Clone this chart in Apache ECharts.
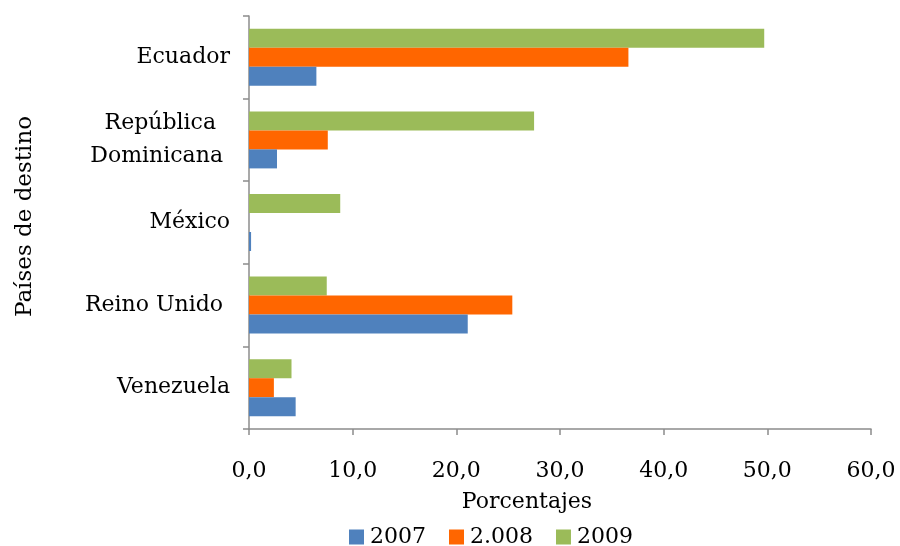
<!DOCTYPE html>
<html>
<head>
<meta charset="utf-8">
<script src="https://cdn.jsdelivr.net/npm/echarts@6/dist/echarts.min.js"></script>
<style>
  html, body { margin: 0; padding: 0; background: #fff; }
  #chart { width: 900px; height: 546px; }
</style>
</head>
<body>
<div id="chart"></div>
<script>
// Destination countries, bottom to top
const paises = ['Venezuela', 'Reino Unido ', 'México', 'República  \nDominicana ', 'Ecuador'];

// Percentages per year (same order as paises)
const valores2007 = [4.5, 21.1, 0.2, 2.7, 6.5];
const valores2008 = [2.4, 25.4, 0, 7.6, 36.6];
const valores2009 = [4.1, 7.5, 8.8, 27.5, 49.7];

const serieNombres = ['2007', '2.008', '2009'];
const serieColores = ['#4F81BD', '#FF6600', '#9BBB59'];

const fuente = 'DejaVu Serif';
const gris = '#8c8c8c';

const chart = echarts.init(document.getElementById('chart'), null, { renderer: 'canvas' });

const datos = [valores2007, valores2008, valores2009];

// Within each band the first series is drawn on top, so add them newest first
// to keep 2007 at the bottom of each group.
const series = serieNombres.map((nombre, i) => ({
  name: nombre,
  type: 'bar',
  data: datos[i],
  barGap: '0%',
  barCategoryGap: '31%',
  itemStyle: { color: serieColores[i] }
})).reverse();

const escalaX = { type: 'value', min: 0, max: 60, interval: 10 };

chart.setOption({
  animation: false,
  backgroundColor: '#ffffff',
  textStyle: { fontFamily: fuente, color: '#000' },
  grid: { left: 249, right: 29, top: 16, bottom: 117, containLabel: false },
  legend: {
    top: 521,
    left: 344,
    itemWidth: 15,
    itemHeight: 15,
    itemGap: 23,
    icon: 'rect',
    textStyle: { fontFamily: fuente, fontSize: 22, color: '#000', padding: [0, 0, 0, 1] },
    data: serieNombres
  },
  xAxis: [
    // axis line, ticks and title
    Object.assign({}, escalaX, {
      position: 'bottom',
      name: 'Porcentajes',
      nameLocation: 'middle',
      nameGap: 62,
      nameMoveOverlap: false,
      nameTextStyle: { fontFamily: fuente, fontSize: 22, color: '#000', padding: [0, 66, 0, 0] },
      axisLine: { show: true, lineStyle: { color: gris, width: 1.5 } },
      axisTick: { show: true, length: 6, lineStyle: { color: gris, width: 1.5 } },
      splitLine: { show: false },
      axisLabel: { show: false }
    }),
    // tick labels, set a little lower under the axis line
    Object.assign({}, escalaX, {
      position: 'bottom',
      offset: 23,
      axisLine: { show: false },
      axisTick: { show: false },
      splitLine: { show: false },
      axisLabel: {
        fontFamily: fuente, fontSize: 22, color: '#000', margin: 8,
        formatter: v => v.toFixed(1).replace('.', ',')
      }
    })
  ],
  yAxis: {
    type: 'category',
    data: paises,
    name: 'Países de destino',
    nameLocation: 'middle',
    nameGap: 212,
    nameRotate: 90,
    nameTextStyle: { fontFamily: fuente, fontSize: 23, color: '#000', padding: [0, 0, 0, 12] },
    axisLine: { show: true, lineStyle: { color: gris, width: 1.5 } },
    axisTick: { show: true, length: 6, lineStyle: { color: gris, width: 1.5 } },
    axisLabel: {
      fontFamily: fuente, fontSize: 22, color: '#000', margin: 19,
      lineHeight: 33, align: 'right'
    }
  },
  series: series
});
</script>
</body>
</html>
